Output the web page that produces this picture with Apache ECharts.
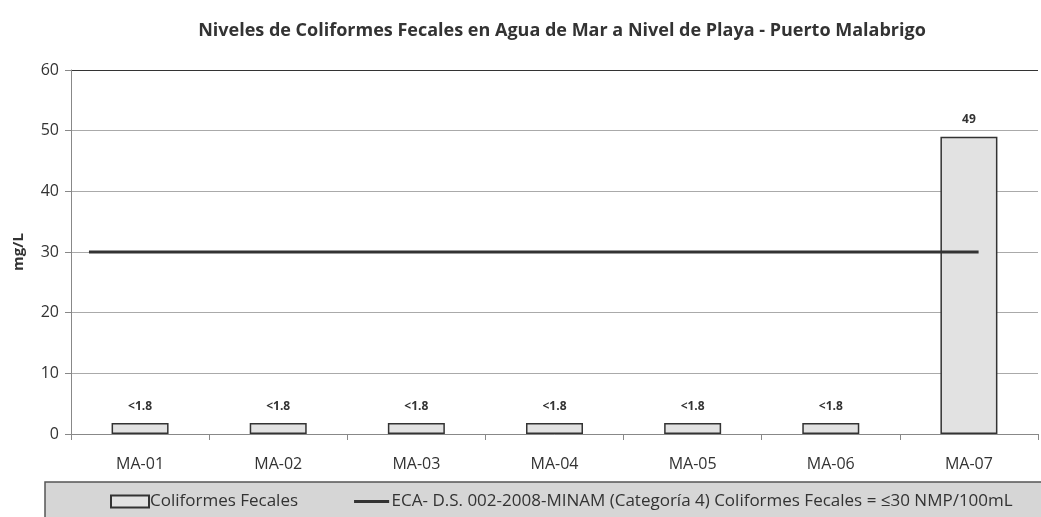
<!DOCTYPE html>
<html>
<head>
<meta charset="utf-8">
<script src="https://cdn.jsdelivr.net/npm/echarts@6/dist/echarts.min.js"></script>
<style>
  html, body { margin: 0; padding: 0; background: #fff; }
  #chart { width: 1041px; height: 517px; }
</style>
</head>
<body>
<div id="chart"></div>
<script>
// data
const categories = ["MA-01", "MA-02", "MA-03", "MA-04", "MA-05", "MA-06", "MA-07"];
const coliformes = [1.8, 1.8, 1.8, 1.8, 1.8, 1.8, 49];
const barLabels = ["<1.8", "<1.8", "<1.8", "<1.8", "<1.8", "<1.8", "49"];
const ecaLimit = [[-0.37, 30], [6.07, 30]];
const barName = "Coliformes Fecales";
const lineName = "ECA- D.S. 002-2008-MINAM (Categoría 4) Coliformes Fecales = ≤30 NMP/100mL";

const font = '"Open Sans", "Noto Sans", sans-serif';

let chart = echarts.init(document.getElementById("chart"));
chart.setOption({
  animation: false,
  textStyle: { fontFamily: font },
  title: {
    text: "Niveles de Coliformes Fecales en Agua de Mar a Nivel de Playa - Puerto Malabrigo",
    left: 557,
    textAlign: "center",
    top: 17,
    textStyle: { fontSize: 18, fontWeight: "bold", color: "#333", fontFamily: font }
  },
  graphic: [{
    type: "rect",
    z: -1,
    shape: { x: 45, y: 482, width: 1010, height: 45 },
    style: { fill: "#d6d6d6", stroke: "#555", lineWidth: 1.5 }
  }],
  legend: {
    left: 105,
    top: 488,
    itemGap: 56,
    itemWidth: 38,
    itemHeight: 12,
    textStyle: { fontSize: 17, color: "#333", fontFamily: font, padding: [0, 0, 0, -4] },
    data: [
      { name: barName, icon: "rect" },
      { name: lineName, icon: "path://M0,0 L0.1,0 M0,5 L38,5 L38,8 L0,8 Z M0,13 L0.1,13" }
    ]
  },
  grid: { left: 71, right: 3, top: 70, bottom: 83 },
  xAxis: [{
    type: "category",
    data: categories,
    axisLine: { lineStyle: { color: "#888" } },
    axisTick: { show: true, length: 6, lineStyle: { color: "#888" } },
    axisLabel: { fontSize: 16, color: "#333", margin: 22 }
  }, {
    type: "value",
    min: -0.5,
    max: 6.5,
    show: false,
    splitLine: { show: false }
  }],
  yAxis: {
    type: "value",
    min: 0,
    max: 60,
    interval: 10,
    name: "mg/L",
    nameLocation: "middle",
    nameGap: 45,
    nameTextStyle: { fontSize: 15, fontWeight: "bold", color: "#333" },
    axisLine: { show: true, onZero: false, lineStyle: { color: "#888" } },
    axisTick: { show: true, length: 6, lineStyle: { color: "#888" } },
    axisLabel: { fontSize: 16, color: "#333", margin: 12 },
    splitLine: {
      lineStyle: { color: ["#aaa", "#aaa", "#aaa", "#aaa", "#aaa", "#aaa", "#333"], width: 1.2 }
    }
  },
  series: [{
    name: barName,
    type: "bar",
    data: coliformes,
    barWidth: 57,
    itemStyle: { color: "#e2e2e2", borderColor: "#333", borderWidth: 1.5 },
    label: {
      show: true,
      position: "top",
      distance: 11,
      fontSize: 12,
      fontWeight: "bold",
      color: "#333",
      formatter: p => barLabels[p.dataIndex]
    }
  }, {
    name: lineName,
    type: "line",
    xAxisIndex: 1,
    data: ecaLimit,
    symbol: "none",
    lineStyle: { color: "#333", width: 3 },
    itemStyle: { color: "#333" }
  }]
});
</script>
</body>
</html>
